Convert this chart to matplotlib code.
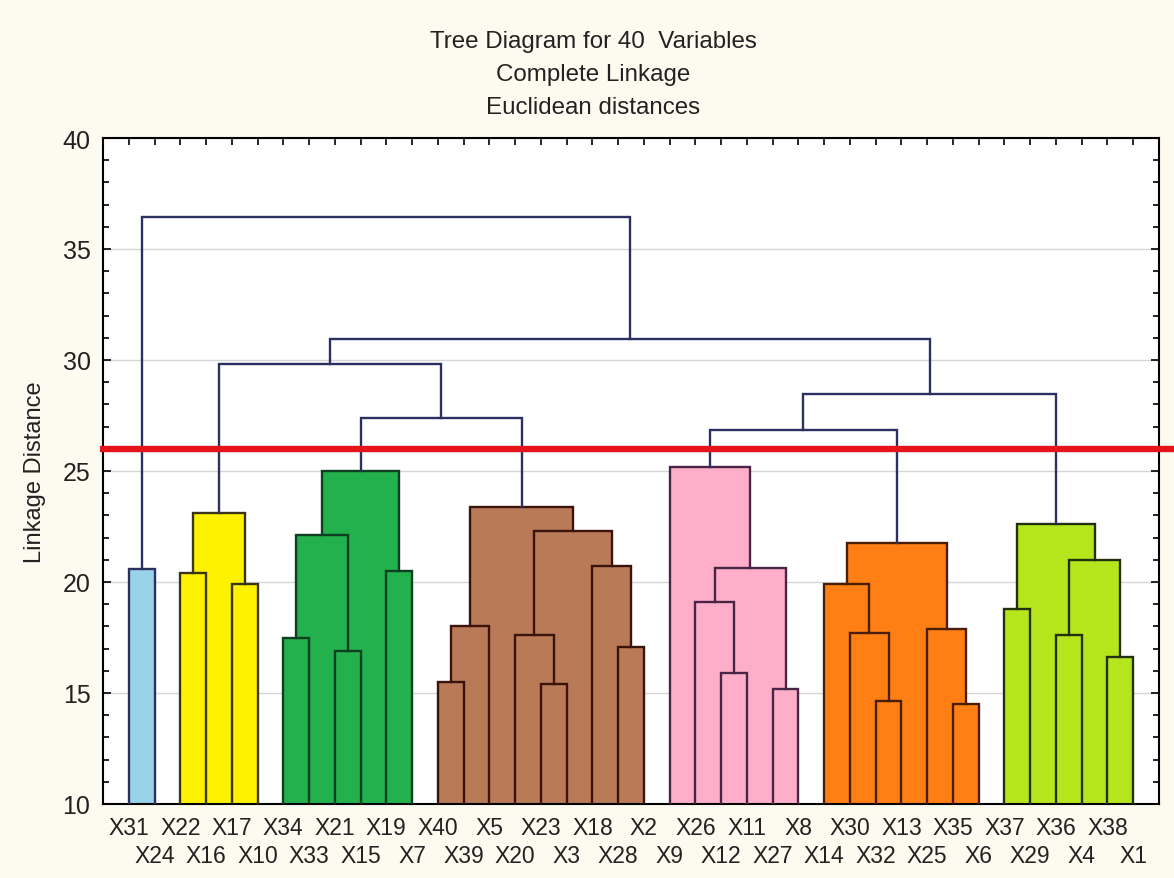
import matplotlib
matplotlib.use("Agg")
import matplotlib.pyplot as plt
from matplotlib.ticker import MultipleLocator

# leaf order along the x axis (left to right)
leaves = ["X31", "X24", "X22", "X16", "X17", "X10", "X34", "X33", "X21", "X15",
          "X19", "X7", "X40", "X39", "X5", "X20", "X23", "X3", "X18", "X28",
          "X2", "X9", "X26", "X12", "X11", "X27", "X8", "X14", "X30", "X32",
          "X13", "X25", "X35", "X6", "X37", "X29", "X36", "X4", "X38", "X1"]

# joins: merge "m<i>" joins join_a[i] with join_b[i] at linkage distance join_h[i]
join_a = ["X31", "X22", "X17", "m1", "X34", "X21", "m4", "X19", "m6",
          "X40", "m9", "X23", "X20", "X28", "X18", "m12", "m10",
          "X12", "X26", "X27", "m18", "X9",
          "X32", "X30", "X14", "X35", "X25", "m24",
          "X37", "X36", "X38", "m29", "m28",
          "m8", "m3", "m21", "m35", "m34", "m0"]
join_b = ["X24", "X16", "X10", "m2", "X33", "X15", "m5", "X7", "m7",
          "X39", "X5", "X3", "m11", "X2", "m13", "m14", "m15",
          "X11", "m17", "X8", "m19", "m20",
          "X13", "m22", "m23", "X6", "m25", "m26",
          "X29", "X4", "X1", "m30", "m31",
          "m16", "m33", "m27", "m32", "m36", "m37"]
join_h = [20.6, 20.4, 19.9, 23.1, 17.5, 16.9, 22.1, 20.5, 25.0,
          15.5, 18.0, 15.4, 17.6, 17.05, 20.7, 22.3, 23.4,
          15.9, 19.1, 15.2, 20.65, 25.2,
          14.65, 17.7, 19.9, 14.5, 17.9, 21.75,
          18.8, 17.6, 16.6, 21.0, 22.6,
          27.4, 29.8, 26.85, 28.45, 30.95, 36.45]

# coloured clusters below the cut
cluster_roots = ["m0", "m3", "m8", "m16", "m21", "m27", "m32"]
cluster_fill = ["#99d3ea", "#fff200", "#22b14c", "#b97a57", "#ffaec9", "#ff7f14", "#b5e61d"]
cluster_edge = ["#2b3060", "#3a3418", "#0f3f22", "#3a140c", "#4a2444", "#4a1e06", "#22300e"]

cut_level = 26.0
base = 10.0
tree_color = "#2b3060"


# x position and height of every leaf and merge
def getpositions():
    xpos, hpos = {}, {}
    for i, name in enumerate(leaves):
        xpos[name] = i + 1
        hpos[name] = base
    for i in range(len(join_h)):
        m = "m" + str(i)
        xpos[m] = (xpos[join_a[i]] + xpos[join_b[i]]) / 2.0
        hpos[m] = join_h[i]
    return xpos, hpos


# list of merge indexes under a node
def getmerges(name):
    if not name.startswith("m"):
        return []
    i = int(name[1:])
    return [i] + getmerges(join_a[i]) + getmerges(join_b[i])


def main():
    xpos, hpos = getpositions()

    colour_of = {}
    for c, root in enumerate(cluster_roots):
        for i in getmerges(root):
            colour_of[i] = c

    fig = plt.figure(figsize=(11.74, 8.79), dpi=100)
    fig.patch.set_facecolor("#fdfaf0")
    ax = fig.add_axes([103 / 1174, 74 / 879, 1056 / 1174, 666 / 879])
    ax.set_facecolor("white")

    # fills first
    for i, c in colour_of.items():
        xa, xb = xpos[join_a[i]], xpos[join_b[i]]
        ax.bar(xa, join_h[i] - base, width=xb - xa, bottom=base, align="edge",
               color=cluster_fill[c], linewidth=0, zorder=1)

    # tree lines
    for i in range(len(join_h)):
        a, b, h = join_a[i], join_b[i], join_h[i]
        col = cluster_edge[colour_of[i]] if i in colour_of else tree_color
        ax.plot([xpos[a], xpos[a], xpos[b], xpos[b]], [hpos[a], h, h, hpos[b]],
                color=col, lw=1.7, zorder=3, solid_joinstyle="miter")

    # cut line
    ax.plot([-0.003, 1.03], [cut_level, cut_level], transform=ax.get_yaxis_transform(),
            color="#e5141b", lw=4.6, clip_on=False, zorder=6, solid_capstyle="butt")

    ax.set_xlim(0, len(leaves) + 1)
    ax.set_ylim(10, 40)
    # odd leaves on the first label row, even leaves on the second
    ax.set_xticks(range(1, len(leaves) + 1, 2))
    ax.set_xticklabels(leaves[0::2], fontsize=16.5, color="#222222")
    ax.set_xticks(range(2, len(leaves) + 1, 2), minor=True)
    ax.set_xticklabels(leaves[1::2], minor=True, fontsize=16.5, color="#222222")
    ax.tick_params(axis="x", which="both", bottom=False, top=True, direction="in",
                   length=5, width=1.2)
    ax.tick_params(axis="x", which="major", pad=9)
    ax.tick_params(axis="x", which="minor", pad=29)
    ax.set_yticks(range(10, 41, 5))
    ax.yaxis.set_minor_locator(MultipleLocator(1))
    ax.tick_params(axis="y", which="both", left=True, right=True, direction="in",
                   labelsize=18, labelcolor="#222222", pad=9, width=1.2)
    ax.tick_params(axis="y", which="major", length=6)
    ax.tick_params(axis="y", which="minor", length=4)
    ax.yaxis.grid(True, which="major", color="#d6d6d6", lw=1)
    ax.set_axisbelow(True)
    for s in ax.spines.values():
        s.set_linewidth(1.5)

    ax.set_ylabel("Linkage Distance", fontsize=17, color="#222222")
    ax.yaxis.set_label_coords(-0.054, 0.5)

    fig.text(593 / 1174, 1 - 42 / 879, "Tree Diagram for 40  Variables", ha="center", va="center",
             fontsize=17.4, color="#222222")
    fig.text(593 / 1174, 1 - 75 / 879, "Complete Linkage", ha="center", va="center",
             fontsize=17.4, color="#222222")
    fig.text(593 / 1174, 1 - 108 / 879, "Euclidean distances", ha="center", va="center",
             fontsize=17.4, color="#222222")

    fig.savefig("out.png", dpi=100, facecolor=fig.get_facecolor())


if __name__ == '__main__':
    plt.rcParams['font.family'] = ['Liberation Sans', 'DejaVu Sans']
    main()
